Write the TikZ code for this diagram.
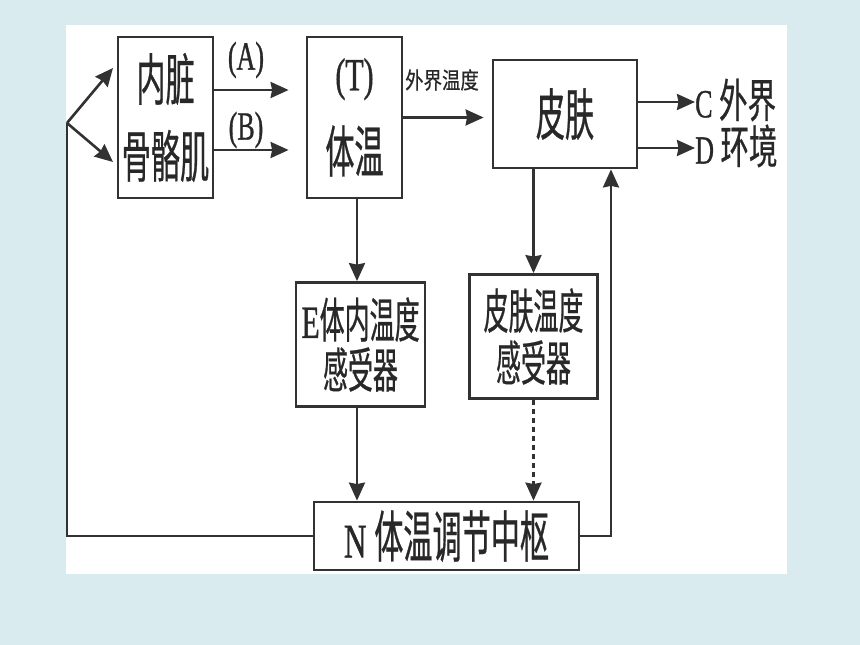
\documentclass[tikz,border=0pt]{standalone}
\usepackage{fontspec}
\setmainfont[FakeStretch=0.65,FakeBold=0.8]{Liberation Serif}
\newfontfamily\cjk[FakeStretch=0.52,FakeBold=0.5]{Noto Sans CJK SC}
\newfontfamily\cjkwide[FakeStretch=0.62,FakeBold=0.5]{Noto Sans CJK SC}
\newfontfamily\cjksmall[FakeStretch=0.8,FakeBold=0.5]{Noto Sans CJK SC}
\usetikzlibrary{arrows.meta}
\definecolor{bgblue}{RGB}{217,235,238}
\definecolor{ink}{RGB}{50,50,50}

\tikzset{
  block/.style={draw=ink, text=ink!80!black, line width=2.8pt, fill=white, inner sep=0pt, align=center},
  flow/.style={draw=ink, line width=2.6pt, -{Stealth[length=18pt,width=16pt,inset=1.5pt]}},
  tag/.style={text=ink!80!black, inner sep=0pt},
}

\begin{document}
\begin{tikzpicture}[x=1pt,y=-1pt]
  % background and panel
  \fill[bgblue] (0,0) rectangle (860,645);
  \fill[white] (66,25) rectangle (787,574);
  \useasboundingbox (0,0) rectangle (860,645);

  % blocks
  \node[block, minimum width=95pt, minimum height=161pt, font=\cjk\fontsize{56}{77}\selectfont] (organ) at (165.5,117.5) {内脏\\骨骼肌};
  \node[block, minimum width=95pt, minimum height=161pt, font=\cjk\fontsize{56}{70}\selectfont] (temp) at (354.5,117.5) {{\rmfamily\fontsize{46}{46}\selectfont (T)}\\[12pt]体温};
  \node[block, minimum width=144pt, minimum height=108pt, font=\cjk\fontsize{56}{70}\selectfont] (skin) at (565,114) {皮肤};
  \node[block, minimum width=129pt, minimum height=124pt, font=\cjk\fontsize{48}{50}\selectfont] (esens) at (360.5,344.5) {{\rmfamily\fontsize{46}{46}\selectfont E}体内温度\\感受器};
  \node[block, minimum width=128pt, minimum height=124pt, font=\cjk\fontsize{48}{52}\selectfont] (ssens) at (533.5,336.5) {皮肤温度\\感受器};
  \node[block, minimum width=265pt, minimum height=68pt, font=\cjk\fontsize{56}{60}\selectfont] (center) at (446.5,536) {{\rmfamily\fontsize{48}{48}\selectfont N\ }体温调节中枢};

  % labels
  \node[tag, font=\fontsize{40}{40}\selectfont] (labA) at (246,60) {(A)};
  \node[tag, font=\fontsize{40}{40}\selectfont] (labB) at (246,130) {(B)};
  \node[tag, font=\cjksmall\fontsize{23}{23}\selectfont] (labout) at (442,80) {外界温度};
  \node[tag, anchor=west] (outC) at (695,100) {{\fontsize{40}{40}\selectfont C\ }{\cjkwide\fontsize{46}{46}\selectfont 外界}};
  \node[tag, anchor=west] (outD) at (695,146) {{\fontsize{40}{40}\selectfont D\ }{\cjkwide\fontsize{46}{46}\selectfont 环境}};

  % forward arrows
  \draw[flow, shorten >=17pt] ([yshift=27.5pt]organ.east) -- ([yshift=27.5pt]temp.west);
  \draw[flow, shorten >=17pt] ([yshift=-32.5pt]organ.east) -- ([yshift=-32.5pt]temp.west);
  \draw[flow, shorten >=8pt] (temp.east) -- (temp.east -| skin.west);
  \draw[flow] ([yshift=12pt]skin.east) -- ([yshift=12pt]skin.east -| outC.west);
  \draw[flow] ([yshift=-34pt]skin.east) -- ([yshift=-34pt]skin.east -| outD.west);

  % sensing
  \draw[flow] ([xshift=2.5pt]temp.south) -- ([xshift=2.5pt]temp.south |- esens.north);
  \draw[flow] ([xshift=2.5pt]temp.south |- esens.south) -- ([xshift=2.5pt]temp.south |- center.north);
  \draw[flow] (ssens.north |- skin.south) -- (ssens.north);
  \draw[flow, dash pattern=on 5pt off 4pt] (ssens.south) -- (ssens.south |- center.north);

  % feedback
  \draw[flow] (center.east) -| ([xshift=46pt]skin.south);
  \coordinate (split) at (67,123);
  \coordinate (splitup) at (113,68);
  \coordinate (splitdown) at (113,162);
  \draw[draw=ink, line width=2.6pt] (center.west) -| (split);
  \draw[flow] (split) -- (splitup);
  \draw[flow] (split) -- (splitdown);
\end{tikzpicture}
\end{document}
